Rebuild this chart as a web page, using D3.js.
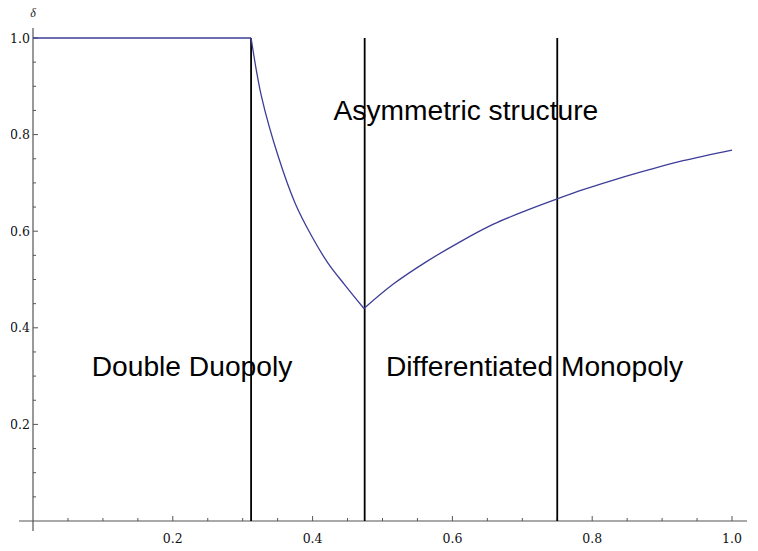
<!DOCTYPE html>
<html>
<head>
<meta charset="utf-8">
<script src="https://cdn.jsdelivr.net/npm/d3@7"></script>
<style>
  body { margin: 0; background: #fff; }
  svg { display: block; }
</style>
</head>
<body>
<svg width="758" height="551"></svg>
<script>
// curve, in three pieces: x (share) -> delta
var flatX = [0, 0.312];
var flatY = [1.0, 1.0];
var downX = [0.312, 0.327, 0.351, 0.375, 0.399, 0.422, 0.446, 0.4735];
var downY = [1.0, 0.878, 0.754, 0.658, 0.589, 0.534, 0.489, 0.440];
var upX = [0.4735, 0.515, 0.563, 0.611, 0.658, 0.706, 0.752, 0.787, 0.835, 0.883, 0.930, 1.0];
var upY = [0.440, 0.490, 0.537, 0.578, 0.614, 0.643, 0.668, 0.686, 0.708, 0.728, 0.746, 0.768];
var boundaries = [0.312, 0.4745, 0.75];
var regionLabels = ["Double Duopoly", "Asymmetric structure", "Differentiated Monopoly"];
var regionPos = [[0.084, 0.30], [0.43, 0.83], [0.505, 0.30]];
var xTicks = [0.2, 0.4, 0.6, 0.8, 1.0];
var yTicks = [0.2, 0.4, 0.6, 0.8, 1.0];

var svg = d3.select("svg");

var x = d3.scaleLinear().domain([0, 1]).range([33, 732]);
var y = d3.scaleLinear().domain([0, 1]).range([521, 38]);

var axisColor = "#555";
var g = svg.append("g");

// axis lines
g.append("line")
    .attr("x1", 19).attr("x2", 747)
    .attr("y1", y(0)).attr("y2", y(0))
    .attr("stroke", axisColor).attr("stroke-width", 1.2);
g.append("line")
    .attr("x1", x(0)).attr("x2", x(0))
    .attr("y1", 28).attr("y2", 531)
    .attr("stroke", axisColor).attr("stroke-width", 1.2);

// minor + major ticks
var minor = d3.range(1, 21).map(function (i) { return i * 0.05; });
g.selectAll(".xt").data(minor).enter().append("line")
    .attr("x1", function (d) { return x(d); })
    .attr("x2", function (d) { return x(d); })
    .attr("y1", y(0))
    .attr("y2", function (d, i) { return y(0) - ((i + 1) % 4 === 0 ? 5 : 3); })
    .attr("stroke", axisColor).attr("stroke-width", 1);
g.selectAll(".yt").data(minor).enter().append("line")
    .attr("y1", function (d) { return y(d); })
    .attr("y2", function (d) { return y(d); })
    .attr("x1", x(0))
    .attr("x2", function (d, i) { return x(0) + ((i + 1) % 4 === 0 ? 5 : 3); })
    .attr("stroke", axisColor).attr("stroke-width", 1);

// tick labels
var tickFont = "'DejaVu Serif', serif";
g.selectAll(".xl").data(xTicks).enter().append("text")
    .attr("x", function (d) { return x(d); })
    .attr("y", 543)
    .attr("text-anchor", "middle")
    .attr("font-family", tickFont).attr("font-size", 12.5)
    .attr("fill", "#111")
    .text(function (d) { return d.toFixed(1); });

svg.append("clipPath").attr("id", "yclip")
    .append("rect").attr("x", 11).attr("y", 0).attr("width", 40).attr("height", 551);
g.append("g").attr("clip-path", "url(#yclip)")
    .selectAll(".yl").data(yTicks).enter().append("text")
    .attr("x", 30)
    .attr("y", function (d) { return y(d) + 4.5; })
    .attr("text-anchor", "end")
    .attr("font-family", tickFont).attr("font-size", 12.5)
    .attr("fill", "#111")
    .text(function (d) { return d.toFixed(1); });

g.append("text")
    .attr("x", 33).attr("y", 17)
    .attr("text-anchor", "middle")
    .attr("font-family", "'Liberation Serif', serif")
    .attr("font-style", "italic").attr("font-size", 12)
    .attr("fill", "#222")
    .text("δ");

// region labels
g.selectAll(".rl").data(regionLabels).enter().append("text")
    .attr("x", function (d, i) { return x(regionPos[i][0]); })
    .attr("y", function (d, i) { return y(regionPos[i][1]); })
    .attr("font-family", "'Liberation Sans', Arial, sans-serif")
    .attr("font-size", 28.2)
    .attr("fill", "#000")
    .text(function (d) { return d; });

// boundary lines
g.selectAll(".bl").data(boundaries).enter().append("line")
    .attr("x1", function (d) { return x(d); })
    .attr("x2", function (d) { return x(d); })
    .attr("y1", y(1)).attr("y2", y(0))
    .attr("stroke", "#000").attr("stroke-width", 1.8);

// curve, one path per piece so the kinks stay sharp
function toPts(xs, ys) {
    return xs.map(function (v, i) { return [v, ys[i]]; });
}
var pieces = [toPts(flatX, flatY), toPts(downX, downY), toPts(upX, upY)];
var line = d3.line()
    .x(function (d) { return x(d[0]); })
    .y(function (d) { return y(d[1]); })
    .curve(d3.curveCatmullRom.alpha(0.5));
g.selectAll(".curve").data(pieces).enter().append("path")
    .attr("fill", "none")
    .attr("stroke", "#3d3d99")
    .attr("stroke-width", 1.3)
    .attr("d", line);
</script>
</body>
</html>
